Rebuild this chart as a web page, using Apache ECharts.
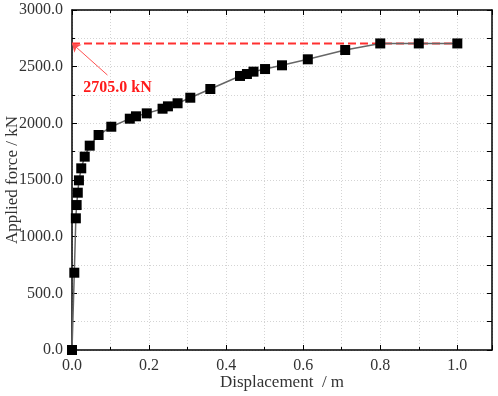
<!DOCTYPE html>
<html>
<head>
<meta charset="utf-8">
<script src="https://cdn.jsdelivr.net/npm/echarts@6/dist/echarts.min.js"></script>
<style>html,body{margin:0;padding:0;background:#fff;}#c{width:498px;height:396px;}</style>
</head>
<body>
<div id="c"></div>
<script>
// Displacement (m)
const displacement = [0, 0.006, 0.010, 0.012, 0.015, 0.018, 0.024, 0.033, 0.046, 0.069, 0.102, 0.150, 0.166, 0.194, 0.235, 0.249, 0.274, 0.307, 0.359, 0.436, 0.454, 0.471, 0.501, 0.545, 0.612, 0.709, 0.800, 0.900, 1.000];
// Applied force (kN)
const force = [0, 682, 1162, 1279, 1388, 1497, 1603, 1706, 1803, 1897, 1970, 2041, 2062, 2088, 2129, 2150, 2177, 2226, 2303, 2418, 2435, 2456, 2479, 2512, 2565, 2647, 2705, 2705, 2705];
// Ultimate load reference line
const ultimateLoad = 2705.0;
const ultimateLineX = [0, 1.0];
const annotationLabel = '2705.0 kN';
const annotationArrowFrom = [0.092, 2426];
const annotationTextAt = [0.118, 2312];

const FONT = '"Liberation Serif", "Times New Roman", serif';
const pts = displacement.map((x, i) => [x, force[i]]);
const gridLine = {show: true, lineStyle: {color: '#d4d4d4', type: [1, 2], width: 1}};

const chart = echarts.init(document.getElementById('c'));
chart.setOption({
  animation: false,
  backgroundColor: '#fff',
  grid: {left: 72, right: 6, top: 10, bottom: 46, containLabel: false, outerBoundsMode: 'none'},
  xAxis: [{
    type: 'value', min: 0, max: 1.09, interval: 0.2,
    name: 'Displacement  / m', nameLocation: 'middle', nameGap: 24, nameMoveOverlap: false,
    nameTextStyle: {fontFamily: FONT, fontSize: 17, color: '#333'},
    axisLine: {show: true, onZero: false, lineStyle: {color: '#000', width: 1.5}},
    axisTick: {show: true, inside: true, length: 5, lineStyle: {color: '#000'}},
    minorTick: {show: true, splitNumber: 2, length: 3, lineStyle: {color: '#000'}},
    splitLine: gridLine, minorSplitLine: gridLine,
    axisLabel: {showMaxLabel: false, margin: 8, fontFamily: FONT, fontSize: 16, color: '#333',
      formatter: v => v.toFixed(1)}
  }, {
    type: 'value', position: 'top', min: 0, max: 1.09, interval: 0.2,
    axisLine: {show: true, onZero: false, lineStyle: {color: '#000', width: 1.5}},
    axisTick: {show: true, inside: true, length: 5, lineStyle: {color: '#000'}},
    minorTick: {show: true, splitNumber: 2, length: 3, lineStyle: {color: '#000'}},
    splitLine: {show: false}, axisLabel: {show: false}
  }],
  yAxis: [{
    type: 'value', min: 0, max: 3000, interval: 500,
    name: 'Applied force / kN', nameLocation: 'middle', nameGap: 51, nameMoveOverlap: false,
    nameTextStyle: {fontFamily: FONT, fontSize: 17, color: '#333'},
    axisLine: {show: true, onZero: false, lineStyle: {color: '#000', width: 1.5}},
    axisTick: {show: true, inside: true, length: 5, lineStyle: {color: '#000'}},
    minorTick: {show: true, splitNumber: 2, length: 3, lineStyle: {color: '#000'}},
    splitLine: gridLine, minorSplitLine: gridLine,
    axisLabel: {margin: 9, fontFamily: FONT, fontSize: 16, color: '#333',
      formatter: v => v.toFixed(1)}
  }, {
    type: 'value', position: 'right', min: 0, max: 3000, interval: 500,
    axisLine: {show: true, onZero: false, lineStyle: {color: '#000', width: 1.5}},
    axisTick: {show: true, inside: true, length: 5, lineStyle: {color: '#000'}},
    minorTick: {show: true, splitNumber: 2, length: 5, lineStyle: {color: '#000'}},
    splitLine: {show: false}, axisLabel: {show: false}
  }],
  series: [{
    type: 'line',
    data: ultimateLineX.map(x => [x, ultimateLoad]),
    showSymbol: false, symbol: 'none', silent: true, z: 3,
    lineStyle: {color: '#ff3030', width: 2, type: [8, 4]},
    markLine: {
      silent: true, symbol: ['none', 'arrow'], symbolSize: 8,
      label: {show: false},
      lineStyle: {color: '#ff5050', type: 'solid', width: 1},
      data: [[{coord: annotationArrowFrom}, {coord: [0, ultimateLoad]}]]
    },
    markPoint: {
      symbol: 'circle', symbolSize: 0,
      data: [{coord: annotationTextAt}],
      label: {show: true, formatter: annotationLabel, position: 'inside',
        fontFamily: FONT, fontSize: 16, fontWeight: 'bold', color: '#ff1a1a'}
    }
  }, {
    type: 'line',
    data: pts,
    symbol: 'rect', symbolSize: 10, z: 4,
    itemStyle: {color: '#000'},
    lineStyle: {color: '#666', width: 1.5}
  }]
});
</script>
</body>
</html>
